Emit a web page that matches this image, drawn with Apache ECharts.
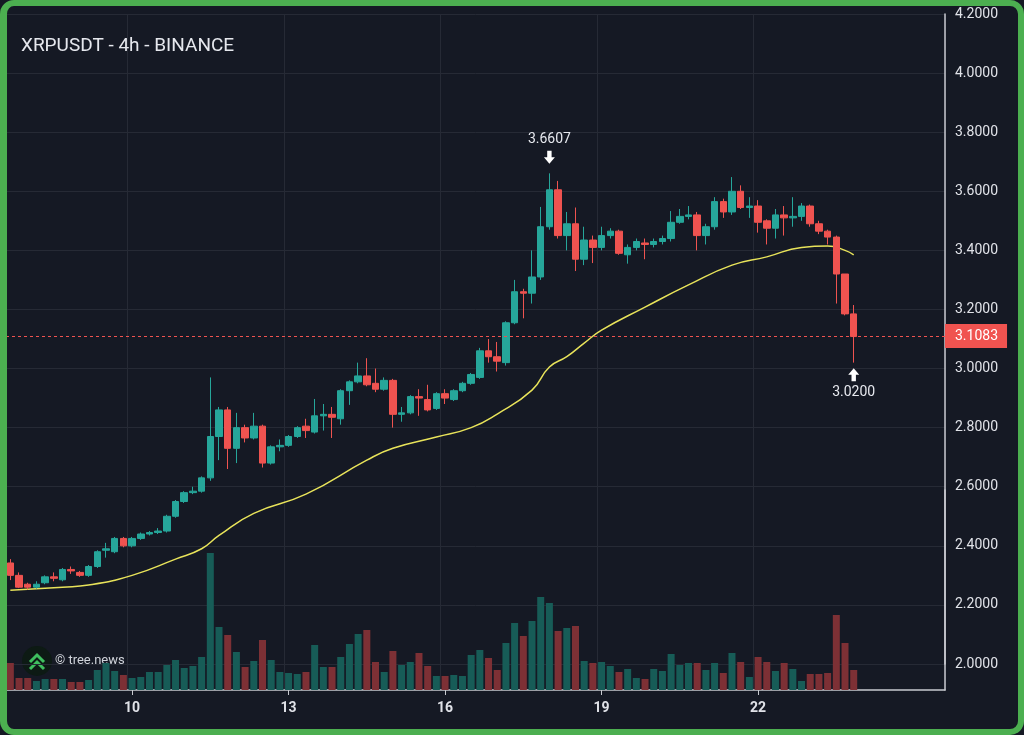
<!DOCTYPE html>
<html><head><meta charset="utf-8">
<script src="https://cdn.jsdelivr.net/npm/echarts@6/dist/echarts.min.js"></script>
<style>
html,body{margin:0;padding:0;background:#4caf50;}
#wrap{position:absolute;left:0;top:0;width:1024px;height:735px;}
#c{position:absolute;left:0;top:0;width:1024px;height:735px;background:#151924;}
#frame{position:absolute;left:0;top:0;width:1024px;height:735px;box-sizing:border-box;border:6px solid #4caf50;border-left-width:7px;border-radius:14px;pointer-events:none;}
</style></head>
<body><div id="wrap"><div id="c"></div><div id="frame"></div></div>
<script>
// OHLC per 4h candle: [open, close, low, high]
const opens  = [2.342,2.30,2.27,2.26,2.275,2.295,2.285,2.32,2.31,2.30,2.33,2.385,2.38,2.425,2.40,2.425,2.44,2.445,2.45,2.50,2.55,2.58,2.585,2.63,2.77,2.86,2.73,2.80,2.765,2.805,2.68,2.735,2.74,2.77,2.805,2.785,2.84,2.845,2.83,2.925,2.955,2.975,2.95,2.93,2.96,2.845,2.85,2.905,2.895,2.865,2.915,2.895,2.925,2.95,2.97,3.06,3.04,3.02,3.155,3.26,3.255,3.31,3.48,3.605,3.45,3.49,3.37,3.435,3.41,3.45,3.465,3.385,3.41,3.425,3.42,3.43,3.44,3.495,3.515,3.52,3.45,3.48,3.565,3.53,3.60,3.545,3.55,3.50,3.475,3.52,3.51,3.515,3.55,3.49,3.465,3.445,3.32,3.185];
const closes = [2.30,2.26,2.26,2.27,2.295,2.29,2.32,2.315,2.30,2.33,2.38,2.39,2.425,2.40,2.425,2.44,2.445,2.45,2.50,2.55,2.58,2.585,2.63,2.77,2.86,2.73,2.80,2.765,2.805,2.68,2.735,2.74,2.77,2.80,2.79,2.84,2.845,2.835,2.925,2.955,2.975,2.945,2.93,2.96,2.845,2.85,2.905,2.90,2.86,2.915,2.90,2.925,2.95,2.98,3.06,3.04,3.025,3.155,3.26,3.255,3.31,3.48,3.605,3.45,3.49,3.37,3.435,3.41,3.45,3.465,3.39,3.41,3.43,3.42,3.43,3.44,3.495,3.515,3.52,3.45,3.48,3.565,3.53,3.60,3.545,3.55,3.495,3.475,3.52,3.51,3.515,3.55,3.49,3.465,3.445,3.32,3.185,3.1083];
const lows   = [2.284,2.257,2.252,2.255,2.27,2.28,2.28,2.305,2.295,2.295,2.325,2.36,2.375,2.395,2.395,2.42,2.435,2.44,2.445,2.495,2.545,2.575,2.58,2.62,2.69,2.66,2.68,2.75,2.76,2.665,2.675,2.72,2.735,2.765,2.765,2.78,2.79,2.765,2.81,2.877,2.95,2.94,2.92,2.925,2.80,2.82,2.845,2.84,2.855,2.86,2.88,2.89,2.92,2.945,2.965,3.02,2.99,3.01,3.15,3.17,3.22,3.30,3.47,3.44,3.40,3.33,3.35,3.357,3.40,3.44,3.385,3.355,3.40,3.37,3.41,3.42,3.43,3.49,3.505,3.40,3.42,3.47,3.51,3.52,3.54,3.51,3.46,3.42,3.44,3.45,3.48,3.50,3.48,3.455,3.42,3.22,3.18,3.02];
const highs  = [2.355,2.31,2.275,2.28,2.30,2.31,2.325,2.33,2.315,2.335,2.385,2.41,2.43,2.43,2.43,2.445,2.45,2.46,2.505,2.555,2.585,2.60,2.635,2.97,2.87,2.87,2.85,2.81,2.85,2.81,2.74,2.76,2.775,2.805,2.83,2.897,2.88,2.87,2.93,2.96,3.02,3.035,3.00,2.97,2.965,2.87,2.91,2.93,2.945,2.92,2.93,2.93,2.955,2.985,3.07,3.10,3.09,3.16,3.30,3.27,3.40,3.547,3.6607,3.635,3.53,3.545,3.48,3.45,3.48,3.475,3.47,3.42,3.44,3.44,3.44,3.45,3.533,3.54,3.55,3.53,3.49,3.58,3.575,3.648,3.62,3.58,3.57,3.505,3.54,3.55,3.58,3.56,3.555,3.50,3.47,3.45,3.32,3.215];
const volumes = [27,12,12,9,11,11,11,8,8,10,20,27,19,15,12,13,18,18,25,30,22,24,33,137,63,55,38,23,29,50,30,18,17,16,18,45,23,23,33,46,56,60,28,18,39,25,28,37,24,14,14,15,14,35,40,32,20,47,67,54,69,93,87,59,62,64,29,27,28,24,18,21,12,11,21,19,36,25,27,27,20,27,17,37,28,13,33,28,19,27,21,9,16,16,17,75,47,20];
// Moving average: [candle index, value]
const maPoints = [[0,2.25],[6,2.26],[9,2.267],[14,2.30],[19,2.355],[22,2.39],[24,2.435],[28,2.51],[34,2.575],[41,2.69],[44,2.73],[49,2.768],[53,2.80],[56,2.846],[60,2.927],[62,3.005],[64,3.04],[66,3.086],[68,3.13],[73,3.208],[78,3.283],[83,3.35],[87,3.378],[91,3.41],[94,3.415],[96,3.40],[97,3.385]];
const yTicks = [2.0,2.2,2.4,2.6,2.8,3.0,3.2,3.4,3.6,3.8,4.0,4.2];
const dayLabels = ['10','13','16','19','22'];
const lastPrice = 3.1083, peak = 3.6607, trough = 3.02;

const categories = [];
const nSlots = 108;
for (let i = 0; i < nSlots; i++) {
  const h = 16 + i * 4;
  const day = 7 + Math.floor(h / 24);
  const hr = h % 24;
  categories.push(day + ' ' + (hr < 10 ? '0' : '') + hr + ':00');
}
const isDayTick = (idx) => {
  const c = categories[idx]; if (!c) return false;
  const [d, t] = c.split(' ');
  return t === '00:00' && dayLabels.includes(d);
};
const candleData = opens.map((o, i) => [o, closes[i], lows[i], highs[i]]);
const UP = '#26a69a', DOWN = '#ef5350';
const volData = volumes.map((v, i) => ({value: v, itemStyle: {color: closes[i] >= opens[i] ? '#175c57' : '#7d3035'}}));

const chart = echarts.init(document.getElementById('c'));
const arrowDown = 'path://M3,0 L7,0 L7,6 L10,6 L5,12 L0,6 L3,6 Z';
const arrowUp = 'path://M5,0 L10,6 L7,6 L7,12 L3,12 L3,6 L0,6 Z';
chart.setOption({
  backgroundColor: '#151924',
  animation: false,
  title: {text: 'XRPUSDT - 4h - BINANCE', left: 16, top: 32, textStyle: {color: '#e6e8ee', fontSize: 19, fontWeight: 'normal', fontFamily: 'Roboto'}},
  grid: [
    {left: 6, right: 79, top: 14, bottom: 71},
    {left: 6, right: 79, top: 490, bottom: 45}
  ],
  xAxis: [
    {type: 'category', gridIndex: 0, data: categories, boundaryGap: true,
     axisLine: {show: false}, axisTick: {show: false}, axisLabel: {show: false},
     splitLine: {show: true, interval: (i) => isDayTick(i), lineStyle: {color: '#262a35'}}},
    {type: 'category', gridIndex: 1, data: categories, boundaryGap: true,
     axisLine: {show: true, lineStyle: {color: '#c8cad0', width: 1.5}},
     axisTick: {show: true, interval: (i) => isDayTick(i), alignWithLabel: true, length: 5, lineStyle: {color: '#c8cad0'}},
     axisLabel: {interval: (i) => isDayTick(i), formatter: (v) => v.split(' ')[0], color: '#e0e2e8', fontSize: 14, fontWeight: 'bold', fontFamily: 'Roboto', margin: 11},
     splitLine: {show: true, interval: (i) => isDayTick(i), lineStyle: {color: '#262a35'}}}
  ],
  yAxis: [
    {type: 'value', gridIndex: 0, position: 'right', min: 2.0, max: 4.2, interval: 0.2,
     axisLine: {show: true, lineStyle: {color: '#c8cad0', width: 1.5}}, axisTick: {show: false},
     axisLabel: {formatter: (v) => v.toFixed(4), color: '#e0e2e8', fontSize: 14, fontFamily: 'Roboto', margin: 10},
     splitLine: {lineStyle: {color: '#262a35'}}},
    {type: 'value', gridIndex: 1, position: 'right', min: 0, max: 200,
     axisLine: {show: true, lineStyle: {color: '#c8cad0', width: 1.5}}, axisTick: {show: false},
     axisLabel: {show: false}, splitLine: {show: false}}
  ],
  series: [
    {type: 'bar', xAxisIndex: 1, yAxisIndex: 1, data: volData, barWidth: 7, z: 1},
    {type: 'candlestick', xAxisIndex: 0, yAxisIndex: 0, data: candleData, barWidth: 7, z: 3,
     itemStyle: {color: UP, color0: DOWN, borderColor: UP, borderColor0: DOWN, borderWidth: 1},
     markLine: {symbol: 'none', silent: true,
       data: [{yAxis: lastPrice}],
       lineStyle: {color: '#ef5350', type: [3, 3], width: 1},
       label: {position: 'end', formatter: lastPrice.toFixed(4), color: '#fff', backgroundColor: '#f05350', padding: [5, 9, 5, 10], fontSize: 14, fontFamily: 'Roboto', distance: 0}},
     markPoint: {silent: true, data: [
       {coord: [62, peak], symbol: arrowDown, symbolSize: [11, 13], symbolOffset: [0, -16], itemStyle: {color: '#fff'},
        label: {show: true, position: 'top', distance: 4, formatter: peak.toFixed(4), color: '#e6e8ee', fontSize: 14, fontFamily: 'Roboto'}},
       {coord: [97, trough], symbol: arrowUp, symbolSize: [11, 13], symbolOffset: [0, 12], itemStyle: {color: '#fff'},
        label: {show: true, position: 'bottom', distance: 4, formatter: trough.toFixed(4), color: '#e6e8ee', fontSize: 14, fontFamily: 'Roboto'}}
     ]}},
    {type: 'line', xAxisIndex: 0, yAxisIndex: 0, data: maPoints, smooth: true, showSymbol: false, z: 2,
     lineStyle: {color: '#e8e35a', width: 1.5}}
  ],
  graphic: [
    {type: 'circle', left: 22, top: 646, shape: {r: 15}, style: {fill: '#0d1a14'}},
    {type: 'polyline', shape: {points: [[30, 662], [37, 655], [44, 662]]}, style: {stroke: '#3fbf5f', lineWidth: 3, fill: null}},
    {type: 'polyline', shape: {points: [[30, 669], [37, 662], [44, 669]]}, style: {stroke: '#3fbf5f', lineWidth: 3, fill: null}},
    {type: 'text', left: 55, top: 654, style: {text: '© tree.news', fill: '#d0d3da', font: '13px Roboto'}}
  ]
});
</script></body></html>
